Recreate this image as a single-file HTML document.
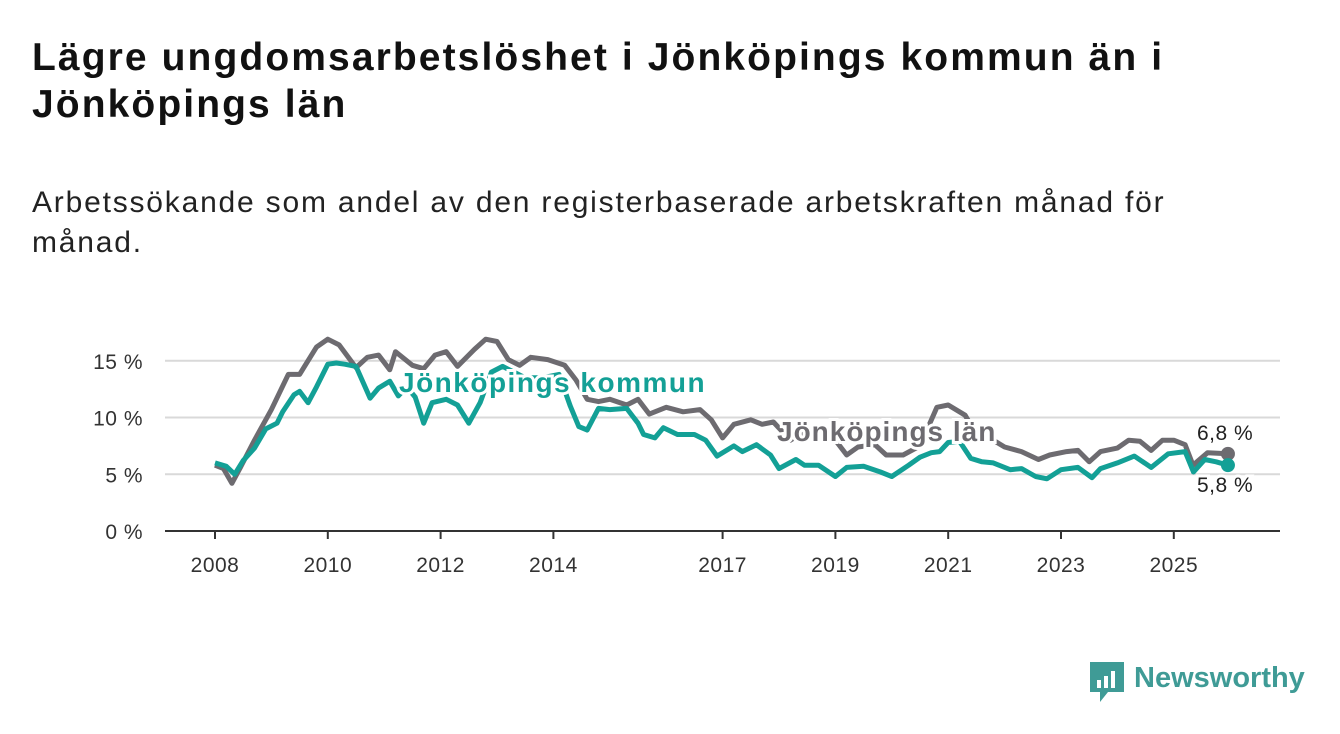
<!DOCTYPE html>
<html><head><meta charset="utf-8"><style>
body{margin:0;width:1340px;height:734px;background:#fff;font-family:"Liberation Sans","DejaVu Sans",sans-serif;overflow:hidden;position:relative}
h1{position:absolute;left:32px;top:34px;margin:0;font-size:39px;line-height:47px;font-weight:bold;color:#111;width:1290px;letter-spacing:2.1px;white-space:nowrap}
p.sub{position:absolute;left:32px;top:183px;margin:0;font-size:30px;line-height:40px;color:#222;width:1290px;letter-spacing:1.8px;white-space:nowrap}
svg{position:absolute;left:0;top:0}
</style></head><body>
<h1>Lägre ungdomsarbetslöshet i Jönköpings kommun än i<br>Jönköpings län</h1>
<p class="sub">Arbetssökande som andel av den registerbaserade arbetskraften månad för<br>månad.</p>
<svg id="chart" width="1340" height="734"></svg>
<script>
const xTicks=[2008,2010,2012,2014,2017,2019,2021,2023,2025];
const yTicks=[0,5,10,15];
const lanT=[2008.0,2008.15,2008.3,2008.45,2008.7,2009.0,2009.3,2009.5,2009.6,2009.8,2010.0,2010.2,2010.5,2010.7,2010.9,2011.1,2011.2,2011.5,2011.7,2011.9,2012.1,2012.3,2012.6,2012.8,2013.0,2013.2,2013.4,2013.6,2013.9,2014.2,2014.4,2014.6,2014.8,2015.0,2015.3,2015.5,2015.7,2016.0,2016.3,2016.6,2016.8,2017.0,2017.2,2017.5,2017.7,2017.9,2018.2,2018.4,2018.7,2019.0,2019.2,2019.4,2019.7,2019.9,2020.2,2020.5,2020.8,2021.0,2021.3,2021.5,2021.8,2022.0,2022.3,2022.6,2022.8,2023.1,2023.3,2023.5,2023.7,2024.0,2024.2,2024.4,2024.6,2024.8,2025.0,2025.2,2025.34,2025.6,2025.96];
const lanV=[5.8,5.5,4.2,5.6,8.0,10.7,13.8,13.8,14.6,16.2,16.9,16.4,14.4,15.3,15.5,14.2,15.8,14.6,14.3,15.5,15.8,14.5,16.0,16.9,16.7,15.1,14.6,15.3,15.1,14.6,13.3,11.6,11.4,11.6,11.1,11.6,10.3,10.9,10.5,10.7,9.8,8.2,9.4,9.8,9.4,9.6,8.0,8.6,8.5,8.0,6.7,7.4,7.6,6.7,6.7,7.5,10.9,11.1,10.2,8.5,8.0,7.4,7.0,6.3,6.7,7.0,7.1,6.1,7.0,7.3,8.0,7.9,7.1,8.0,8.0,7.6,5.8,6.9,6.8];
const komT=[2008.0,2008.2,2008.35,2008.5,2008.7,2008.9,2009.1,2009.2,2009.4,2009.5,2009.65,2009.8,2010.0,2010.15,2010.3,2010.5,2010.75,2010.9,2011.1,2011.25,2011.4,2011.55,2011.7,2011.85,2012.1,2012.3,2012.5,2012.7,2012.9,2013.1,2013.3,2013.5,2013.8,2014.1,2014.3,2014.45,2014.6,2014.8,2015.0,2015.3,2015.5,2015.6,2015.8,2015.95,2016.2,2016.5,2016.7,2016.9,2017.2,2017.35,2017.6,2017.85,2018.0,2018.3,2018.45,2018.7,2019.0,2019.2,2019.5,2019.8,2020.0,2020.3,2020.5,2020.7,2020.85,2021.0,2021.2,2021.4,2021.6,2021.8,2022.1,2022.3,2022.55,2022.75,2023.0,2023.3,2023.55,2023.7,2024.0,2024.3,2024.6,2024.9,2025.2,2025.35,2025.55,2025.75,2025.96];
const komV=[6.0,5.7,5.0,6.2,7.3,9.0,9.5,10.5,12.0,12.3,11.3,12.7,14.7,14.8,14.7,14.5,11.7,12.6,13.2,11.9,12.7,11.8,9.5,11.3,11.6,11.1,9.5,11.3,14.0,14.5,14.0,13.5,13.5,13.8,11.0,9.2,8.9,10.8,10.7,10.8,9.5,8.5,8.2,9.1,8.5,8.5,8.0,6.6,7.5,7.0,7.6,6.7,5.5,6.3,5.8,5.8,4.8,5.6,5.7,5.2,4.8,5.8,6.5,6.9,7.0,7.8,7.9,6.4,6.1,6.0,5.4,5.5,4.8,4.6,5.4,5.6,4.7,5.5,6.0,6.6,5.6,6.8,7.0,5.2,6.3,6.1,5.8];
const svg=document.getElementById('chart');const NS='http://www.w3.org/2000/svg';
const X=t=>215+(t-2008)*56.4;const Y=v=>531-v*11.35;
function mk(tag,a,parent){const e=document.createElementNS(NS,tag);for(const k in a)e.setAttribute(k,a[k]);(parent||svg).appendChild(e);return e;}
yTicks.forEach(v=>{
 if(v>0){const g=mk('line',{x1:165,x2:1280,y1:Y(v),y2:Y(v),stroke:'#d9d9d9','stroke-width':2});
 
 }
 const t=mk('text',{x:143,y:Y(v)+8,'text-anchor':'end','font-size':21,fill:'#333','letter-spacing':0.5});t.textContent=v+' %';
 
 
});
const ax=mk('line',{x1:165,x2:1280,y1:531,y2:531,stroke:'#333','stroke-width':2});


xTicks.forEach(y=>{
 mk('line',{x1:X(y),x2:X(y),y1:531,y2:539,stroke:'#333','stroke-width':2});
 const t=mk('text',{x:X(y),y:572,'text-anchor':'middle','font-size':21,fill:'#333','letter-spacing':0.5});t.textContent=y;
 
 
});
function line(T,V,c,name){const d=T.map((t,i)=>(i?'L':'M')+X(t).toFixed(1)+','+Y(V[i]).toFixed(1)).join('');
 const p=mk('path',{d:d,fill:'none',stroke:c,'stroke-width':5,'stroke-linejoin':'round'});
 
 
 const n=T.length-1;const dot=mk('circle',{cx:X(T[n]),cy:Y(V[n]),r:7,fill:c});
 
 }
line(lanT,lanV,'#6d6b70','series-jonkopings-lan');
line(komT,komV,'#13a096','series-jonkopings-kommun');
function lab(x,y,txt,c,size,w,name,halo,ls){const t=mk('text',{x:x,y:y,'font-size':size,'font-weight':w,fill:c,'letter-spacing':ls});
 if(halo){t.setAttribute('stroke','#fff');t.setAttribute('stroke-width',6);t.setAttribute('paint-order','stroke');}
 t.textContent=txt;
 
 }
lab(399,392,'Jönköpings kommun','#13a096',28,'bold','label-kommun',true,1.5);
lab(777,441,'Jönköpings län','#6d6b70',28,'bold','label-lan',true,1);
lab(1197,440,'6,8 %','#222',21,'normal','end-value-lan',true,0.5);
lab(1197,492,'5,8 %','#222',21,'normal','end-value-kommun',true,0.5);
</script>
<div style="position:absolute;left:1088px;top:660px;display:flex;align-items:center">
<svg width="38" height="44" style="position:static"><path d="M2 2h34v30H20l-8 10v-10H2z" fill="#3f9b96"/><rect x="9" y="20" width="4" height="8" fill="#fff"/><rect x="16" y="16" width="4" height="12" fill="#fff"/><rect x="23" y="11" width="4" height="17" fill="#fff"/></svg>
<span style="font-size:29px;color:#3f9b96;font-weight:bold;margin-left:8px;margin-top:-8px">Newsworthy</span></div>
</body></html>
